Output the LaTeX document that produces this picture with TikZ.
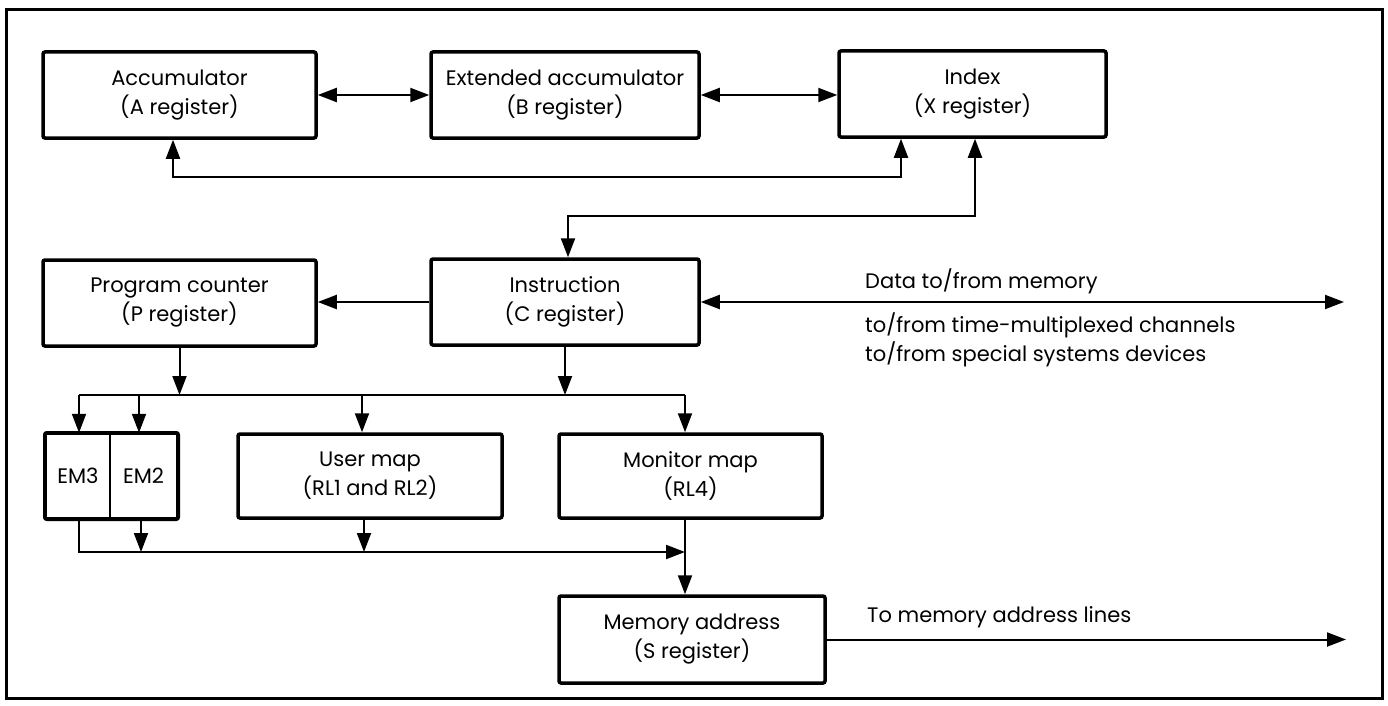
\documentclass[tikz,border=0pt]{standalone}
\usepackage{fontspec}
\setmainfont{Poppins}
\usetikzlibrary{arrows.meta}
\begin{document}
\begin{tikzpicture}[x=1pt,y=-1pt,
  font=\fontsize{21}{29}\selectfont,
  reg/.style={draw, line width=3.5pt, rounded corners=2pt, align=center, inner sep=0pt, minimum height=86pt},
  emreg/.style={draw, line width=2.5pt, align=center, inner sep=0pt, minimum height=84pt},
  wire/.style={line width=2pt},
  tip/.style={-{Triangle[length=19pt,width=14pt]}},
  both/.style={{Triangle[length=19pt,width=14pt]}-{Triangle[length=19pt,width=14pt]}},
  lbl/.style={anchor=west, inner sep=0pt}
]
\useasboundingbox (0,0) rectangle (1388,706);
\draw[line width=3pt] (6,10) rectangle (1382,698);

\node[reg, minimum width=273pt] (A) at (179.5,95) {Accumulator\\(A register)};
\node[reg, minimum width=268pt] (B) at (565,95) {Extended accumulator\\(B register)};
\node[reg, minimum width=267pt] (X) at (972.5,94) {Index\\(X register)};
\node[reg, minimum width=273pt] (P) at (179.5,303) {Program counter\\(P register)};
\node[reg, minimum width=268pt] (C) at (565,302) {Instruction\\(C register)};
\node[emreg, minimum width=64pt] (EM3) at (78,476) {EM3};
\node[emreg, minimum width=67pt] (EM2) at (143.5,476) {EM2};
\draw[line width=3.5pt, rounded corners=2pt] (EM3.north west) rectangle (EM2.south east);
\node[reg, minimum width=264pt, minimum height=84pt] (U) at (370,476) {User map\\(RL1 and RL2)};
\node[reg, minimum width=263pt, minimum height=84pt] (M) at (690.5,476) {Monitor map\\(RL4)};
\node[reg, minimum width=266pt, minimum height=87pt] (S) at (692,639.5) {Memory address\\(S register)};

\node[lbl] (t1) at (865,281) {Data to/from memory};
\node[lbl] (t2) at (865,325) {to/from time-multiplexed channels};
\node[lbl] (t3) at (865,354) {to/from special systems devices};
\node[lbl] (t4) at (867,617) {To memory address lines};

\coordinate (j1) at (173,177);
\coordinate (j2) at (901,177);
\coordinate (j3) at (568,216);
\coordinate (j4) at (975,216);
\coordinate (dataEnd) at (1344,300);
\coordinate (bus1) at (79,395);
\coordinate (bus2) at (685,395);
\coordinate (e2) at (139,395);
\coordinate (u1) at (362,395);
\coordinate (low1) at (79,552);
\coordinate (low2) at (685,552);
\coordinate (e2b) at (141,552);
\coordinate (u2) at (364,552);
\coordinate (memEnd) at (1346,642);

\draw[wire,both] (A.east) -- (B.west);
\draw[wire,both] (B.east) -- (B.east -| X.west);
\draw[wire,both] (A.south -| j1) -- (j1) -- (j2) -- (X.south -| j2);
\draw[wire,both] (C.north -| j3) -- (j3) -- (j4) -- (X.south -| j4);
\draw[wire,tip] (C.west) -- (C.west -| P.east);
\draw[wire,both] (C.east) -- (C.east -| dataEnd);

\draw[wire,tip] (P.south) -- (P.south |- bus1);
\draw[wire,tip] (C.south) -- (C.south |- bus1);
\draw[wire] (bus1) -- (bus2);
\draw[wire,tip] (bus1) -- (bus1 |- EM3.north);
\draw[wire,tip] (e2) -- (e2 |- EM2.north);
\draw[wire,tip] (u1) -- (u1 |- U.north);
\draw[wire,tip] (bus2) -- (bus2 |- M.north);

\draw[wire,tip] (EM3.south -| low1) -- (low1) -- (low2);
\draw[wire,tip] (EM2.south -| e2b) -- (e2b);
\draw[wire,tip] (U.south -| u2) -- (u2);
\draw[wire,tip] (M.south -| low2) -- (S.north -| low2);
\draw[wire,tip] (S.east) -- (S.east -| memEnd);
\end{tikzpicture}
\end{document}
